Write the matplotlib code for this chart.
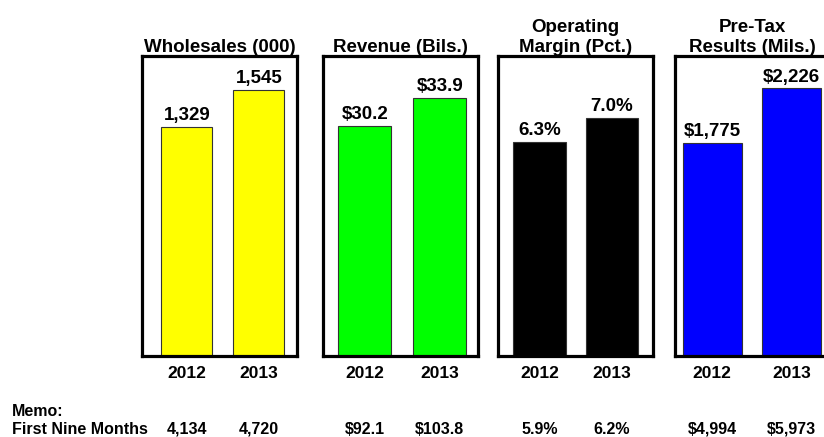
import matplotlib
matplotlib.use("Agg")
import matplotlib.pyplot as plt
from matplotlib.transforms import blended_transform_factory

plt.rcParams['font.family'] = ['Liberation Sans', 'DejaVu Sans']
plt.rcParams['font.weight'] = 'bold'

# data
panel_titles = ['Wholesales (000)', 'Revenue (Bils.)',
                'Operating\nMargin (Pct.)', 'Pre-Tax\nResults (Mils.)']
years = ['2012', '2013']
wholesales = [1329, 1545]
revenue = [30.2, 33.9]
op_margin = [6.3, 7.0]
pretax = [1775, 2226]
memo_wholesales = [4134, 4720]
memo_revenue = [92.1, 103.8]
memo_margin = [5.9, 6.2]
memo_pretax = [4994, 5973]

series = [wholesales, revenue, op_margin, pretax]
memos = [memo_wholesales, memo_revenue, memo_margin, memo_pretax]
fmts = ['{:,.0f}', '${:.1f}', '{:.1f}%', '${:,.0f}']
colors = ['#FFFF00', '#00FF00', '#000000', '#0000FF']

# layout (pixels of the 824x437 canvas)
W, H = 824, 437
ax_left = [142, 323, 498, 675]
ax_w = 155
ax_bottom = 81
ax_h = 300
x_lims = [(-0.622, 1.531), (-0.557, 1.51), (-0.572, 1.566), (-0.469, 1.48)]
bar_w = [0.713, 0.71, 0.73, 0.74]
y_tops = [1741, 39.4, 8.82, 2496]

fig = plt.figure(figsize=(W / 100, H / 100), dpi=100)

for i in range(4):
    ax = fig.add_axes([ax_left[i] / W, ax_bottom / H, ax_w / W, ax_h / H])
    bars = ax.bar([0, 1], series[i], width=bar_w[i], color=colors[i],
                  edgecolor='#333333', linewidth=0.8)
    ax.bar_label(bars, labels=[fmts[i].format(v) for v in series[i]],
                 padding=2, fontsize=13.5, fontweight='bold')
    ax.set_xlim(*x_lims[i])
    ax.set_ylim(0, y_tops[i])
    ax.set_yticks([])
    ax.set_xticks([0, 1])
    ax.set_xticklabels(years, fontsize=12.5, fontweight='bold')
    ax.tick_params(axis='x', length=0, pad=7)
    for s in ax.spines.values():
        s.set_linewidth(2.3)
        s.set_color('black')
    ax.set_title(panel_titles[i], fontsize=13.5, fontweight='bold', pad=3,
                 linespacing=1.2)

    tr = blended_transform_factory(ax.transData, fig.transFigure)
    for j, v in enumerate(memos[i]):
        ax.text(j, 3 / H, fmts[i].format(v), transform=tr, ha='center',
                va='baseline', fontsize=11.5, fontweight='bold', clip_on=False)

fig.text(12 / W, 21 / H, 'Memo:', fontsize=11.5, fontweight='bold', va='baseline')
fig.text(12 / W, 3 / H, 'First Nine Months', fontsize=11.5, fontweight='bold',
         va='baseline')

fig.savefig('out.png', dpi=100)
